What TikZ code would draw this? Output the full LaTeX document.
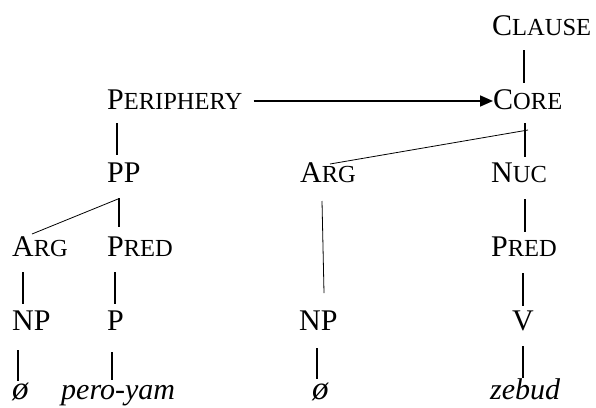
\documentclass[tikz,border=0pt]{standalone}
\usepackage{fontspec}
\setmainfont{Liberation Serif}
\usetikzlibrary{arrows.meta}
% small-capital label: full-size initial, reduced capitals after it
\newcommand\smcap[2]{#1{\fontsize{24.5}{25}\selectfont #2}}
\begin{document}
\begin{tikzpicture}[x=1pt,y=-1pt,
  lbl/.style={inner sep=0pt,anchor=base west,font=\fontsize{30}{32}\selectfont},
  word/.style={lbl,font=\fontsize{30}{32}\selectfont\itshape},
  branch/.style={line width=1.5pt},
  slant/.style={line width=0.8pt},
  link/.style={line width=1.7pt,-{Triangle[length=13pt,width=11pt]}}]
\useasboundingbox (0,0) rectangle (596,407);

% labels, placed by baseline
\node[lbl] (clause) at (492,35)  {\smcap{C}{LAUSE}};
\node[lbl] (periph) at (107,109) {\smcap{P}{ERIPHERY}};
\node[lbl] (core)   at (493,109) {\smcap{C}{ORE}};
\node[lbl] (pp)     at (107,182) {PP};
\node[lbl] (arg2)   at (300,182) {\smcap{A}{RG}};
\node[lbl] (nuc)    at (491,182) {\smcap{N}{UC}};
\node[lbl] (arg1)   at (12,256)  {\smcap{A}{RG}};
\node[lbl] (pred1)  at (107,256) {\smcap{P}{RED}};
\node[lbl] (pred2)  at (491,256) {\smcap{P}{RED}};
\node[lbl] (np1)    at (12,330)  {NP};
\node[lbl] (p)      at (107,330) {P};
\node[lbl] (np2)    at (299,330) {NP};
\node[lbl] (v)      at (512,330) {V};
\node[word] (phi1)  at (12,399)  {\fontsize{33}{34}\selectfont ø};
\node[word] (pero)  at (61,399)  {pero-yam};
\node[word] (phi2)  at (312,399) {\fontsize{33}{34}\selectfont ø};
\node[word] (zebud) at (490,399) {zebud};

% periphery modifies the core
\draw[link] ([shift={(11,-8)}]periph.base east) -- ([shift={(0,-8)}]core.base west);

% tree branches
\draw[branch] ([shift={(32,15)}]clause.base west) -- ([shift={(31,-26)}]core.base west);
\draw[branch] ([shift={(10,14)}]periph.base west) -- ([shift={(10,-27)}]pp.base west);
\draw[branch] ([shift={(32,14)}]core.base west) -- ([shift={(34,-25)}]nuc.base west);
\draw[slant]  ([shift={(35,21)}]core.base west) -- ([shift={(30,-18)}]arg2.base west);
\draw[branch] ([shift={(12,16)}]pp.base west) -- ([shift={(12,-29)}]pred1.base west);
\draw[slant]  ([shift={(11,17)}]pp.base west) -- ([shift={(20,-22)}]arg1.base west);
\draw[branch] ([shift={(11,16)}]arg1.base west) -- ([shift={(11,-26)}]np1.base west);
\draw[branch] ([shift={(8,16)}]pred1.base west) -- ([shift={(8,-26)}]p.base west);
\draw[slant]  ([shift={(22,19)}]arg2.base west) -- ([shift={(25,-37)}]np2.base west);
\draw[branch] ([shift={(34,17)}]nuc.base west) -- ([shift={(34,-24)}]pred2.base west);
\draw[branch] ([shift={(32,17)}]pred2.base west) -- ([shift={(11,-24)}]v.base west);
\draw[branch] ([shift={(6,20)}]np1.base west) -- ([shift={(6,-18)}]phi1.base west);
\draw[branch] ([shift={(5,22)}]p.base west) -- ([shift={(51,-19)}]pero.base west);
\draw[branch] ([shift={(18,18)}]np2.base west) -- ([shift={(5,-20)}]phi2.base west);
\draw[branch] ([shift={(11,16)}]v.base west) -- ([shift={(33,-21)}]zebud.base west);
\end{tikzpicture}
\end{document}
